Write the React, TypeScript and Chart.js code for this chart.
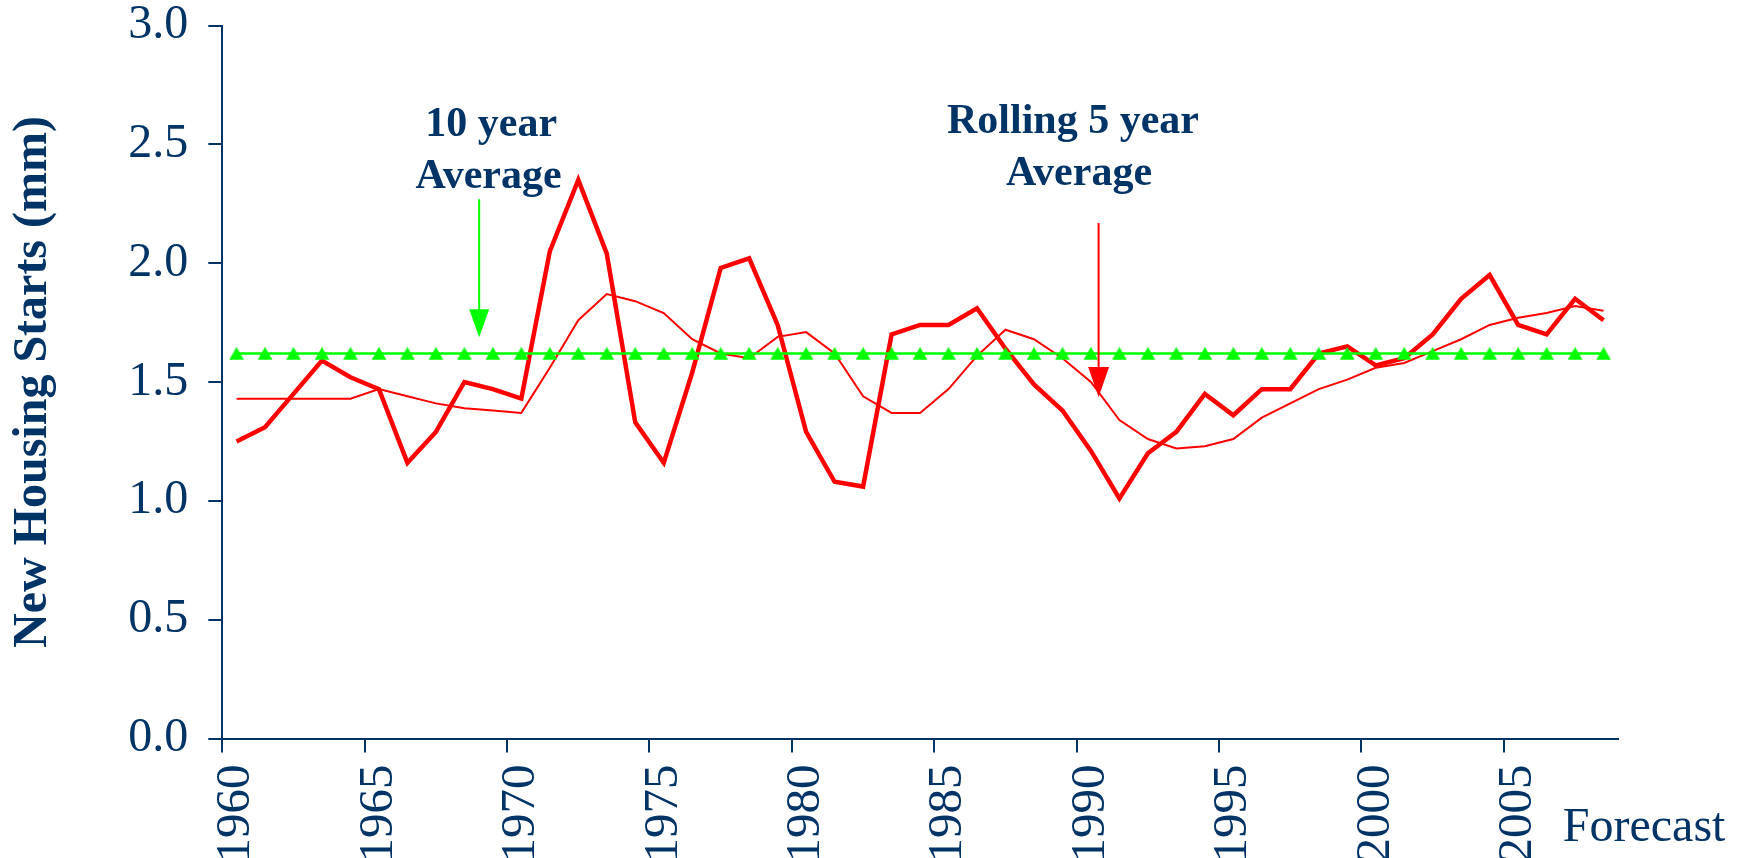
import React, { useEffect, useRef } from 'react';
import { Chart, registerables } from 'chart.js';

Chart.register(...registerables);

// ---------------- data ----------------
const years = [
  '1960', '1961', '1962', '1963', '1964', '1965', '1966', '1967', '1968', '1969',
  '1970', '1971', '1972', '1973', '1974', '1975', '1976', '1977', '1978', '1979',
  '1980', '1981', '1982', '1983', '1984', '1985', '1986', '1987', '1988', '1989',
  '1990', '1991', '1992', '1993', '1994', '1995', '1996', '1997', '1998', '1999',
  '2000', '2001', '2002', '2003', '2004', '2005', '2006', '2007', '2008',
];

// New housing starts (mm), thick red line
const housingStarts = [
  1.25, 1.31, 1.45, 1.59, 1.52, 1.47, 1.16, 1.29, 1.50, 1.47,
  1.43, 2.05, 2.35, 2.04, 1.33, 1.16, 1.54, 1.98, 2.02, 1.74,
  1.29, 1.08, 1.06, 1.70, 1.74, 1.74, 1.81, 1.64, 1.49, 1.38,
  1.21, 1.01, 1.20, 1.29, 1.45, 1.36, 1.47, 1.47, 1.62, 1.65,
  1.57, 1.60, 1.70, 1.85, 1.95, 1.74, 1.70, 1.85, 1.76,
];

// Rolling 5 year average, thin red line
const rollingAverage = [
  1.43, 1.43, 1.43, 1.43, 1.43, 1.47, 1.44, 1.41, 1.39, 1.38,
  1.37, 1.56, 1.76, 1.87, 1.84, 1.79, 1.68, 1.62, 1.60, 1.69,
  1.71, 1.62, 1.44, 1.37, 1.37, 1.47, 1.61, 1.72, 1.68, 1.60,
  1.50, 1.34, 1.26, 1.22, 1.23, 1.26, 1.35, 1.41, 1.47, 1.51,
  1.56, 1.58, 1.63, 1.68, 1.74, 1.77, 1.79, 1.82, 1.80,
];

// 10 year average, green line with triangles
const tenYearAverage = [
  1.62, 1.62, 1.62, 1.62, 1.62, 1.62, 1.62, 1.62, 1.62, 1.62,
  1.62, 1.62, 1.62, 1.62, 1.62, 1.62, 1.62, 1.62, 1.62, 1.62,
  1.62, 1.62, 1.62, 1.62, 1.62, 1.62, 1.62, 1.62, 1.62, 1.62,
  1.62, 1.62, 1.62, 1.62, 1.62, 1.62, 1.62, 1.62, 1.62, 1.62,
  1.62, 1.62, 1.62, 1.62, 1.62, 1.62, 1.62, 1.62, 1.62,
];

const yTickValues = [0, 0.5, 1.0, 1.5, 2.0, 2.5, 3.0];
const labelEvery = 5;

// ---------------- styles ----------------
const NAVY = '#003366';
const RED = '#FF0000';
const GREEN = '#00FF00';
const SERIF = '"Liberation Serif", "Times New Roman", Times, serif';

function makeTriangle(): HTMLCanvasElement {
  const c = document.createElement('canvas');
  c.width = 16;
  c.height = 14;
  const g = c.getContext('2d')!;
  g.fillStyle = GREEN;
  g.beginPath();
  g.moveTo(0.5, 13.5);
  g.lineTo(8, 0.5);
  g.lineTo(15.5, 13.5);
  g.closePath();
  g.fill();
  return c;
}

const annotationPlugin = {
  id: 'chartAnnotations',
  afterDatasetsDraw(chart: any) {
    const { ctx, chartArea } = chart;
    const xs = chart.scales.x;
    const ys = chart.scales.y;
    const px = (i: number) => xs.getPixelForValue(i);
    const py = (v: number) => ys.getPixelForValue(v);

    ctx.save();
    // labels
    ctx.fillStyle = NAVY;
    ctx.font = `bold 42px ${SERIF}`;
    ctx.textAlign = 'center';
    ctx.textBaseline = 'alphabetic';
    ctx.fillText('10 year', px(8.94), py(2.537));
    ctx.fillText('Average', px(8.85), py(2.315));
    ctx.fillText('Rolling 5 year', px(29.37), py(2.546));
    ctx.fillText('Average', px(29.58), py(2.328));

    const arrow = (color: string, idx: number, top: number, headTop: number, tip: number, half: number) => {
      const x = px(idx);
      ctx.strokeStyle = color;
      ctx.fillStyle = color;
      ctx.lineWidth = 2;
      ctx.beginPath();
      ctx.moveTo(x, py(top));
      ctx.lineTo(x, py(headTop) + 1);
      ctx.stroke();
      ctx.beginPath();
      ctx.moveTo(x - half, py(headTop));
      ctx.lineTo(x + half, py(headTop));
      ctx.lineTo(x, py(tip));
      ctx.closePath();
      ctx.fill();
    };
    arrow(GREEN, 8.52, 2.269, 1.806, 1.688, 10);
    arrow(RED, 30.27, 2.169, 1.563, 1.437, 10.5);

    // Forecast label
    ctx.fillStyle = NAVY;
    ctx.font = `48px ${SERIF}`;
    ctx.textAlign = 'left';
    ctx.fillText('Forecast', chartArea.right - 55, chartArea.bottom + 102);
    ctx.restore();
  },
};

export default function App() {
  const canvasRef = useRef<HTMLCanvasElement | null>(null);

  useEffect(() => {
    if (!canvasRef.current) return;
    const triangle = makeTriangle();
    const chart = new Chart(canvasRef.current, {
      type: 'line',
      data: {
        labels: years,
        datasets: [
          {
            label: '10 year Average',
            data: tenYearAverage,
            borderColor: GREEN,
            backgroundColor: GREEN,
            borderWidth: 2.5,
            pointStyle: triangle as any,
            pointRadius: 8,
            pointHoverRadius: 8,
            tension: 0,
            fill: false,
          },
          {
            label: 'New Housing Starts',
            data: housingStarts,
            borderColor: RED,
            borderWidth: 4.5,
            pointRadius: 0,
            tension: 0,
            fill: false,
            borderJoinStyle: 'miter',
          },
          {
            label: 'Rolling 5 year Average',
            data: rollingAverage,
            borderColor: RED,
            borderWidth: 2,
            pointRadius: 0,
            tension: 0,
            fill: false,
            borderJoinStyle: 'miter',
          },
        ],
      },
      options: {
        responsive: false,
        animation: false,
        events: [],
        layout: { padding: { left: 0, top: 25.5, right: 124.2, bottom: 0 } },
        plugins: {
          legend: { display: false },
          tooltip: { enabled: false },
          title: { display: false },
        },
        scales: {
          x: {
            type: 'category',
            offset: true,
            grid: {
              offset: true,
              drawOnChartArea: false,
              drawTicks: true,
              tickLength: 14,
              lineWidth: 2,
              color: (c: any) =>
                c.index !== undefined && c.index % labelEvery === 0 ? NAVY : 'rgba(0,0,0,0)',
            },
            border: { display: true, color: NAVY, width: 2 },
            ticks: {
              autoSkip: false,
              minRotation: 90,
              maxRotation: 90,
              padding: 12,
              color: NAVY,
              font: { family: SERIF, size: 49, lineHeight: 1.2 },
              callback: (_v: any, i: number) => (i % labelEvery === 0 ? years[i] : ''),
            },
            afterFit: (s: any) => {
              s.height = 119.5;
            },
          },
          y: {
            type: 'linear',
            min: 0,
            max: 3,
            afterBuildTicks: (s: any) => {
              s.ticks = yTickValues.map((v) => ({ value: v }));
            },
            ticks: {
              padding: 20,
              color: NAVY,
              font: { family: SERIF, size: 48, lineHeight: 0.1 },
              callback: (v: any) => Number(v).toFixed(1),
            },
            grid: {
              drawOnChartArea: false,
              drawTicks: true,
              tickLength: 14,
              lineWidth: 2,
              color: NAVY,
            },
            border: { display: true, color: NAVY, width: 2 },
            title: {
              display: true,
              text: 'New Housing Starts (mm)',
              color: NAVY,
              font: { family: SERIF, size: 48, weight: 'bold', lineHeight: 1.2 },
              padding: { top: 5, bottom: 0 },
            },
            afterFit: (s: any) => {
              s.width = 222.3;
            },
          },
        },
      } as any,
      plugins: [annotationPlugin],
    });
    return () => chart.destroy();
  }, []);

  return (
    <div style={{ position: 'fixed', left: 0, top: 0, width: 1742, height: 858, background: '#fff' }}>
      <canvas ref={canvasRef} width={1742} height={858} style={{ width: 1742, height: 858, display: 'block' }} />
    </div>
  );
}
